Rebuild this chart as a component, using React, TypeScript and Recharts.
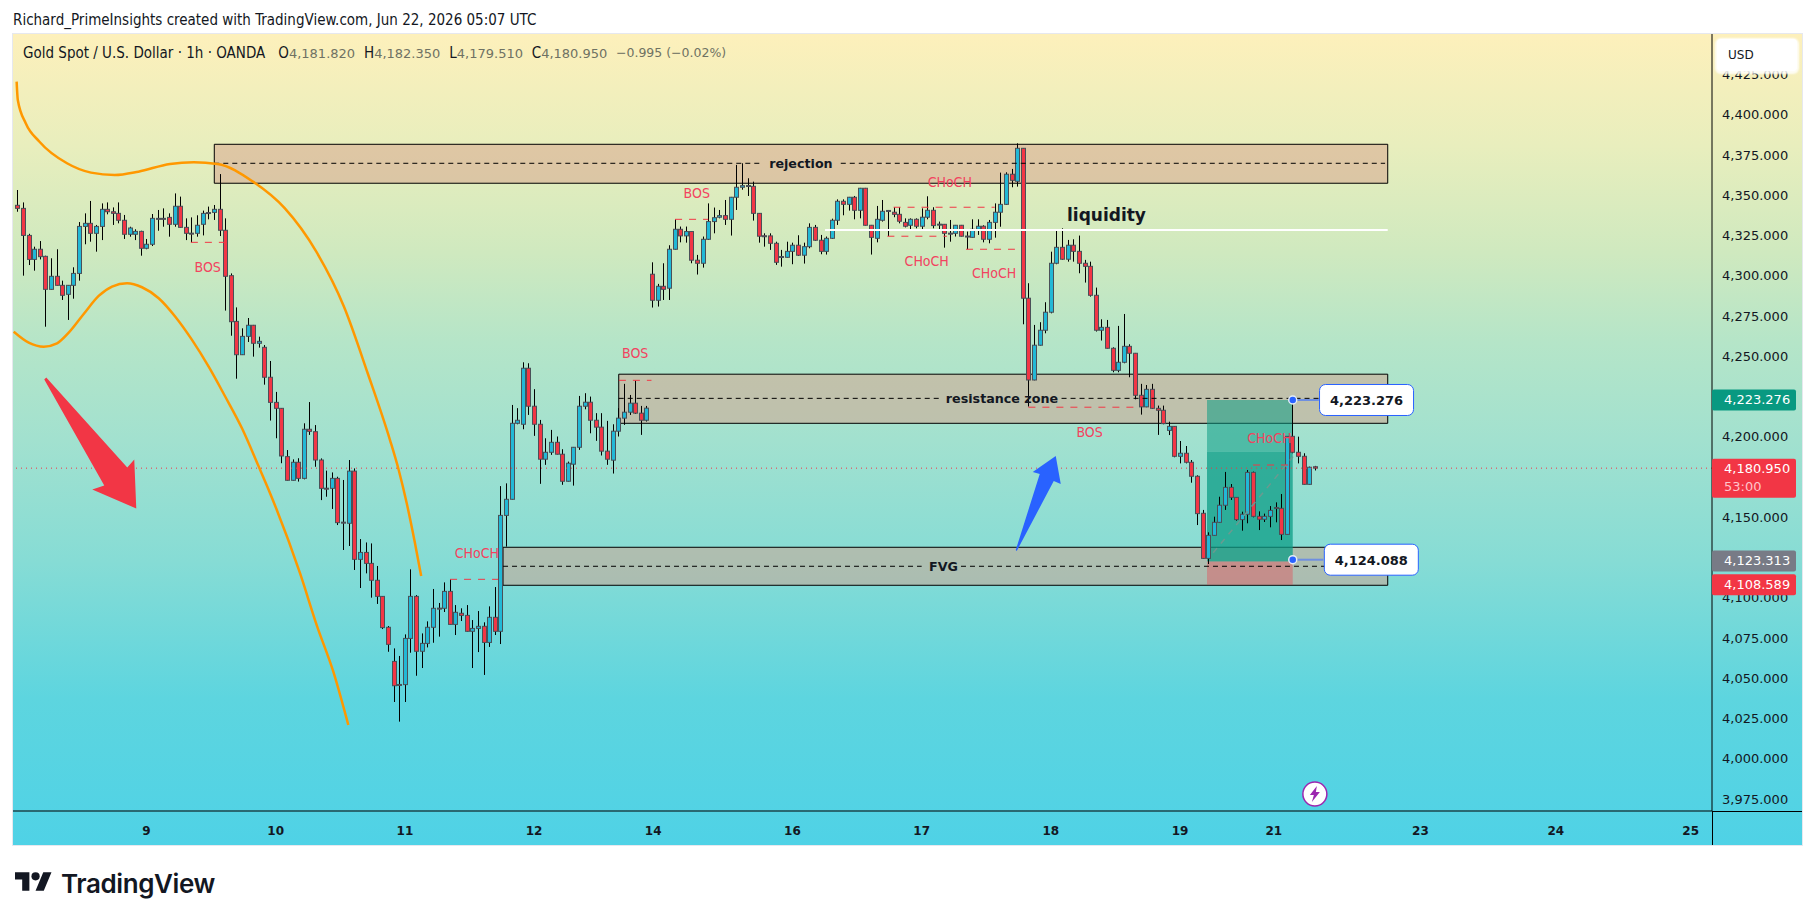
import { Bar, ComposedChart, Line, ReferenceArea, ReferenceDot, ReferenceLine, XAxis, YAxis } from "recharts";

const FONT = "'DejaVu Sans', sans-serif";
const NARROW = "'DejaVu Sans Condensed', 'DejaVu Sans', sans-serif";
const RED = "#F23645";
const BLUE = "#22B8D6";
const INK = "#131722";
const X_DOMAIN = [-0.766, 301.7];
const Y_DOMAIN = [3968, 4450.6];

const opens = [
  4344.2, 4342.3, 4325.5, 4310.6, 4316.9, 4312.5, 4292.0, 4300.1, 4294.5, 4288.9,
  4294.5, 4301.9, 4331.1, 4333.0, 4326.8, 4331.1, 4341.7, 4340.2, 4339.2, 4334.9,
  4326.2, 4326.2, 4328.0, 4317.5, 4320.0, 4336.1, 4336.1, 4336.7, 4332.4, 4343.6,
  4330.5, 4326.9, 4326.8, 4332.4, 4339.7, 4339.8, 4341.7, 4328.7, 4300.5, 4272.1,
  4251.4, 4262.8, 4269.7, 4258.5, 4256.0, 4237.4, 4221.8, 4218.1, 4188.1, 4173.4,
  4184.6, 4174.6, 4205.1, 4203.6, 4186.0, 4168.5, 4168.4, 4174.6, 4147.4, 4146.7,
  4179.1, 4124.3, 4128.6, 4121.8, 4111.3, 4101.3, 4082.1, 4060.9, 4046.6, 4046.5,
  4075.2, 4101.3, 4067.2, 4072.1, 4082.1, 4094.0, 4093.9, 4104.4, 4083.9, 4090.8,
  4089.5, 4079.6, 4081.4, 4082.7, 4072.7, 4088.3, 4079.6, 4151.6, 4161.6, 4208.8,
  4208.2, 4243.0, 4219.4, 4208.2, 4186.5, 4190.8, 4197.0, 4189.6, 4172.8, 4183.4,
  4193.9, 4219.4, 4221.9, 4210.7, 4206.4, 4191.5, 4185.9, 4203.9, 4212.0, 4215.7,
  4221.3, 4215.1, 4210.7, 4301.4, 4285.2, 4293.9, 4292.7, 4316.9, 4329.3, 4325.2,
  4327.9, 4310.1, 4308.2, 4323.1, 4334.1, 4336.8, 4337.8, 4335.5, 4349.2, 4355.4,
  4356.5, 4356.0, 4339.2, 4325.3, 4325.2, 4320.6, 4312.4, 4311.9, 4315.6, 4319.4,
  4313.2, 4318.5, 4330.5, 4322.5, 4315.6, 4323.7, 4334.9, 4346.7, 4344.8, 4349.2,
  4341.1, 4354.8, 4331.8, 4323.7, 4334.9, 4341.0, 4339.9, 4338.6, 4333.6, 4331.8,
  4335.5, 4331.2, 4336.8, 4341.1, 4332.5, 4332.4, 4326.9, 4326.8, 4331.8, 4325.1,
  4324.3, 4329.3, 4331.2, 4323.1, 4333.6, 4339.9, 4344.8, 4363.5, 4359.1, 4379.6,
  4286.5, 4235.7, 4257.3, 4266.6, 4277.8, 4308.2, 4318.1, 4310.7, 4319.4, 4315.6,
  4308.2, 4306.3, 4288.3, 4266.6, 4268.4, 4255.4, 4241.7, 4246.7, 4256.6, 4252.3,
  4226.2, 4219.0, 4229.9, 4218.1, 4216.9, 4204.4, 4206.9, 4188.3, 4190.2, 4184.6,
  4175.9, 4152.9, 4124.9, 4139.2, 4147.3, 4157.9, 4169.0, 4162.8, 4149.0, 4152.3,
  4178.3, 4151.0, 4149.2, 4151.0, 4156.5, 4156.0, 4139.8, 4200.7, 4190.8, 4188.3,
  4170.9, 4181.82,
];
const highs = [
  4353.7, 4346.0, 4326.5, 4318.5, 4322.0, 4312.9, 4311.3, 4316.9, 4297.4, 4294.7,
  4305.7, 4333.8, 4339.2, 4346.9, 4332.0, 4345.4, 4346.0, 4342.9, 4346.0, 4338.2,
  4330.9, 4329.3, 4328.4, 4323.3, 4338.8, 4341.3, 4342.3, 4339.2, 4351.6, 4349.6,
  4336.1, 4336.7, 4338.0, 4340.9, 4343.4, 4344.4, 4363.6, 4336.1, 4301.9, 4280.8,
  4267.8, 4274.2, 4269.9, 4262.6, 4257.4, 4247.5, 4228.3, 4218.3, 4192.2, 4186.4,
  4187.1, 4208.8, 4222.0, 4207.7, 4187.0, 4179.4, 4178.3, 4175.6, 4173.6, 4186.0,
  4180.8, 4136.9, 4134.8, 4134.2, 4120.2, 4101.5, 4082.9, 4069.0, 4064.3, 4077.7,
  4118.1, 4102.1, 4078.3, 4085.8, 4105.9, 4097.2, 4110.0, 4111.9, 4095.9, 4093.9,
  4095.9, 4086.6, 4092.2, 4085.2, 4095.1, 4107.1, 4169.8, 4171.5, 4220.2, 4218.2,
  4246.7, 4246.1, 4230.0, 4210.9, 4199.5, 4204.7, 4200.6, 4192.7, 4185.0, 4194.1,
  4225.8, 4227.5, 4225.4, 4215.1, 4215.1, 4210.3, 4208.2, 4218.2, 4233.3, 4226.4,
  4235.3, 4219.6, 4219.6, 4308.8, 4295.4, 4308.2, 4319.4, 4335.5, 4331.0, 4331.0,
  4328.1, 4313.4, 4324.8, 4345.4, 4342.8, 4341.3, 4347.5, 4349.4, 4369.3, 4370.3,
  4361.0, 4358.9, 4339.4, 4326.8, 4326.8, 4321.6, 4316.5, 4321.6, 4321.0, 4325.6,
  4321.0, 4333.0, 4332.0, 4325.8, 4324.8, 4335.9, 4347.9, 4347.9, 4349.4, 4350.0,
  4355.0, 4355.0, 4332.0, 4343.8, 4347.5, 4341.3, 4343.0, 4343.0, 4336.1, 4336.1,
  4336.1, 4342.3, 4349.8, 4343.0, 4334.1, 4332.6, 4335.1, 4332.0, 4332.0, 4327.9,
  4335.5, 4335.5, 4331.8, 4335.1, 4345.4, 4364.5, 4364.7, 4366.8, 4382.7, 4379.8,
  4295.8, 4269.9, 4271.6, 4284.0, 4315.4, 4328.9, 4329.9, 4322.7, 4323.1, 4325.4,
  4310.3, 4309.2, 4293.1, 4273.4, 4273.0, 4256.0, 4269.3, 4276.7, 4257.9, 4252.5,
  4233.3, 4232.6, 4233.3, 4219.8, 4219.8, 4209.8, 4207.1, 4197.8, 4194.7, 4186.0,
  4176.5, 4155.0, 4141.1, 4150.8, 4163.2, 4178.6, 4171.1, 4163.0, 4153.9, 4179.8,
  4178.8, 4154.1, 4152.7, 4157.4, 4159.7, 4164.9, 4200.9, 4223.3, 4200.5, 4190.2,
  4181.9, 4182.35,
];
const lows = [
  4340.2, 4300.5, 4307.1, 4303.6, 4310.6, 4268.8, 4291.8, 4294.3, 4285.4, 4273.0,
  4286.2, 4297.4, 4320.0, 4321.6, 4315.4, 4322.6, 4338.6, 4332.0, 4333.0, 4323.3,
  4324.7, 4322.6, 4312.9, 4316.9, 4318.9, 4328.4, 4330.9, 4324.7, 4330.9, 4330.3,
  4322.6, 4321.2, 4324.7, 4325.5, 4335.5, 4335.1, 4325.1, 4278.8, 4263.2, 4236.5,
  4251.2, 4259.3, 4250.2, 4255.8, 4232.8, 4210.5, 4199.5, 4184.0, 4173.2, 4173.2,
  4172.6, 4174.0, 4201.6, 4181.8, 4161.1, 4163.2, 4155.6, 4145.6, 4130.1, 4132.6,
  4117.7, 4106.5, 4115.6, 4100.5, 4096.6, 4081.0, 4066.9, 4035.7, 4023.5, 4035.7,
  4066.3, 4052.0, 4056.8, 4069.6, 4072.5, 4076.3, 4091.6, 4083.7, 4077.3, 4086.0,
  4079.4, 4056.8, 4066.7, 4052.5, 4069.9, 4077.3, 4071.7, 4132.2, 4161.4, 4208.2,
  4205.1, 4214.0, 4201.0, 4171.2, 4183.0, 4189.2, 4189.4, 4170.6, 4172.6, 4170.1,
  4192.3, 4217.5, 4202.6, 4197.9, 4188.8, 4183.0, 4177.6, 4200.6, 4207.8, 4214.0,
  4214.6, 4201.6, 4209.9, 4280.7, 4281.3, 4285.4, 4285.4, 4316.7, 4321.2, 4321.0,
  4308.2, 4301.2, 4305.5, 4322.7, 4326.8, 4336.1, 4332.0, 4325.4, 4341.3, 4353.9,
  4350.0, 4334.7, 4321.0, 4318.5, 4316.5, 4307.2, 4306.1, 4311.7, 4307.6, 4312.7,
  4308.0, 4317.5, 4322.1, 4313.8, 4313.6, 4323.3, 4332.0, 4338.0, 4340.9, 4335.5,
  4336.1, 4331.6, 4313.6, 4321.2, 4334.1, 4325.0, 4336.8, 4333.0, 4330.5, 4328.9,
  4329.9, 4329.3, 4335.5, 4329.9, 4328.9, 4317.9, 4321.6, 4324.8, 4324.8, 4316.9,
  4324.1, 4325.8, 4321.2, 4320.6, 4324.1, 4330.9, 4344.4, 4355.4, 4355.8, 4270.3,
  4219.2, 4235.5, 4257.1, 4264.7, 4277.1, 4307.6, 4310.3, 4309.2, 4309.2, 4302.0,
  4296.2, 4287.5, 4265.8, 4260.2, 4255.2, 4240.5, 4240.5, 4246.1, 4237.4, 4223.7,
  4214.2, 4218.8, 4217.7, 4201.6, 4208.2, 4201.5, 4187.7, 4183.9, 4183.9, 4171.9,
  4145.6, 4124.7, 4121.4, 4139.0, 4147.1, 4155.0, 4161.2, 4148.3, 4142.1, 4146.7,
  4150.4, 4142.5, 4147.5, 4144.2, 4147.3, 4136.3, 4139.6, 4190.2, 4183.9, 4170.7,
  4170.7, 4179.51,
];
const closes = [
  4342.3, 4325.5, 4310.6, 4316.9, 4312.3, 4292.0, 4300.1, 4294.5, 4288.3, 4294.5,
  4301.9, 4331.1, 4333.0, 4326.8, 4331.1, 4341.7, 4340.2, 4339.2, 4334.9, 4326.2,
  4330.1, 4328.0, 4317.5, 4320.0, 4336.1, 4335.9, 4335.9, 4332.4, 4343.6, 4330.5,
  4326.8, 4326.7, 4331.8, 4339.2, 4339.5, 4341.7, 4328.7, 4300.1, 4271.9, 4251.4,
  4262.8, 4269.7, 4258.5, 4259.7, 4237.4, 4221.8, 4218.1, 4188.5, 4173.4, 4184.6,
  4174.6, 4205.1, 4203.8, 4186.0, 4168.4, 4168.3, 4174.6, 4147.1, 4147.2, 4179.1,
  4124.3, 4128.6, 4121.8, 4111.3, 4101.3, 4081.9, 4071.5, 4045.8, 4046.4, 4075.2,
  4101.3, 4067.2, 4072.1, 4082.1, 4093.9, 4093.8, 4104.4, 4083.9, 4091.4, 4089.5,
  4079.6, 4081.4, 4082.7, 4072.7, 4088.3, 4079.6, 4151.6, 4161.6, 4208.8, 4210.7,
  4243.0, 4219.4, 4208.2, 4186.5, 4190.8, 4197.0, 4189.6, 4172.8, 4184.0, 4193.9,
  4219.4, 4221.9, 4210.7, 4206.4, 4191.5, 4186.5, 4203.9, 4212.0, 4215.7, 4221.3,
  4215.1, 4210.7, 4218.2, 4285.2, 4293.9, 4292.0, 4316.9, 4329.3, 4325.2, 4327.9,
  4310.1, 4308.2, 4323.1, 4334.1, 4336.5, 4337.8, 4335.5, 4349.2, 4355.4, 4356.4,
  4356.3, 4339.2, 4325.0, 4325.1, 4320.6, 4308.8, 4312.2, 4315.6, 4319.4, 4313.2,
  4318.5, 4330.5, 4322.5, 4315.6, 4323.7, 4334.9, 4346.7, 4344.8, 4349.2, 4341.1,
  4354.8, 4331.8, 4324.3, 4335.5, 4340.5, 4340.8, 4338.6, 4334.3, 4331.2, 4335.5,
  4331.2, 4336.8, 4341.1, 4331.6, 4332.3, 4326.8, 4326.7, 4331.8, 4325.0, 4324.9,
  4329.3, 4331.2, 4323.1, 4333.6, 4339.9, 4344.8, 4363.5, 4359.7, 4379.6, 4286.5,
  4235.7, 4257.3, 4266.6, 4277.8, 4308.2, 4318.1, 4310.7, 4319.4, 4315.6, 4308.2,
  4306.3, 4288.3, 4266.6, 4268.4, 4255.4, 4241.7, 4246.7, 4256.6, 4252.3, 4226.2,
  4219.0, 4229.9, 4218.1, 4216.9, 4208.6, 4206.9, 4188.3, 4190.2, 4184.6, 4175.9,
  4152.7, 4124.9, 4139.2, 4147.3, 4157.9, 4169.0, 4162.8, 4149.0, 4152.3, 4178.3,
  4151.0, 4149.2, 4151.0, 4154.7, 4156.3, 4139.8, 4200.7, 4190.8, 4188.3, 4170.9,
  4181.5, 4180.95,
];

const candles = opens.map((open, i) => ({
  i,
  open,
  high: highs[i],
  low: lows[i],
  close: closes[i],
  range: [lows[i], highs[i]],
}));

// 4,125 / 4,175 / 4,225 sit behind the price tags on the real chart
const priceTicks = [3975, 4000, 4025, 4050, 4075, 4100, 4150, 4200, 4250, 4275, 4300, 4325, 4350, 4375, 4400, 4425];
const dayTicks = [23, 46, 69, 92, 113.2, 138, 161, 184, 207, 223.7, 249.8, 273.9, 297.9];
const dayLabels = ["9", "10", "11", "12", "14", "16", "17", "18", "19", "21", "23", "24", "25"];

const upperCurve = [
  { i: -0.12, p: 4421.0 }, { i: 0.09, p: 4409.6 }, { i: 1.5, p: 4395.2 }, { i: 3.95, p: 4383.7 },
  { i: 8.85, p: 4370.3 }, { i: 13.12, p: 4364.5 }, { i: 17.34, p: 4363.0 }, { i: 21.56, p: 4365.1 },
  { i: 27.19, p: 4369.9 }, { i: 31.42, p: 4370.9 }, { i: 35.64, p: 4369.9 }, { i: 41.96, p: 4358.9 },
  { i: 47.6, p: 4342.4 }, { i: 53.23, p: 4315.4 }, { i: 58.16, p: 4281.2 }, { i: 62.38, p: 4239.9 },
  { i: 66.35, p: 4198.4 }, { i: 67.9, p: 4179.8 }, { i: 69.33, p: 4159.1 }, { i: 70.8, p: 4134.3 },
  { i: 71.9, p: 4114.0 },
];
const lowerCurve = [
  { i: -0.64, p: 4265.7 }, { i: 2.03, p: 4258.9 }, { i: 4.7, p: 4256.4 }, { i: 7.07, p: 4258.5 },
  { i: 9.15, p: 4265.1 }, { i: 11.82, p: 4276.7 }, { i: 14.49, p: 4287.9 }, { i: 16.86, p: 4293.7 },
  { i: 19.53, p: 4295.8 }, { i: 22.2, p: 4293.3 }, { i: 25.17, p: 4286.5 }, { i: 28.13, p: 4275.0 },
  { i: 31.1, p: 4260.6 }, { i: 34.07, p: 4244.0 }, { i: 37.03, p: 4225.3 }, { i: 40.0, p: 4205.7 },
  { i: 42.98, p: 4181.9 }, { i: 44.76, p: 4167.4 }, { i: 50.33, p: 4115.7 }, { i: 53.3, p: 4083.5 },
  { i: 56.26, p: 4054.5 }, { i: 58.93, p: 4021.4 },
];

const zones = [
  { x1: 35.07, x2: 243.97, y1: 4357.9, y2: 4382.1 },
  { x1: 107.07, x2: 243.97, y1: 4208.8, y2: 4239.3 },
  { x1: 86.47, x2: 243.97, y1: 4108.2, y2: 4131.8 },
];
// dashed middle lines, broken where the zone's name sits
const midLines = [
  { from: 35.07, to: 132.2, p: 4370.3 },
  { from: 146.6, to: 243.5, p: 4370.3 },
  { from: 107.07, to: 164.3, p: 4224.3 },
  { from: 185.9, to: 243.5, p: 4224.3 },
  { from: 86.47, to: 161, p: 4120 },
  { from: 168, to: 243.5, p: 4120 },
];
const structureLines = [
  { from: 30.9, to: 36.8, p: 4321.2 },
  { from: 77.04, to: 85.6, p: 4111.9 },
  { from: 107.1, to: 112.9, p: 4235.5 },
  { from: 117.1, to: 123, p: 4335.5 },
  { from: 156, to: 174, p: 4343 },
  { from: 154.9, to: 165.5, p: 4325 },
  { from: 168.9, to: 177.6, p: 4316.9 },
  { from: 180, to: 198.7, p: 4218.8 },
  { from: 220, to: 226.6, p: 4182.9 },
];
const structureNotes = [
  { text: "BOS", i: 33.9, p: 4306 },
  { text: "CHoCH", i: 81.8, p: 4128.4 },
  { text: "BOS", i: 110, p: 4252.3 },
  { text: "BOS", i: 120.96, p: 4351.7 },
  { text: "CHoCH", i: 166, p: 4358.9 },
  { text: "CHoCH", i: 161.9, p: 4309.8 },
  { text: "CHoCH", i: 173.9, p: 4302.4 },
  { text: "BOS", i: 190.9, p: 4203.6 },
  { text: "CHoCH", i: 222.9, p: 4199.5 },
];
const zoneNotes = [
  { text: "rejection", i: 139.5, p: 4370.3 },
  { text: "resistance zone", i: 175.3, p: 4224.3 },
  { text: "FVG", i: 164.9, p: 4120 },
];
const priceTags = [
  { text: "4,223.276", p: 4223.276, color: "#089981" },
  { text: "4,123.313", p: 4123.313, color: "#787B86" },
  { text: "4,108.589", p: 4108.589, color: RED },
];

const shapeOf = (pts: number[][], color: string) => (props: any) => (
  <polygon points={pts.map(([x, y]) => `${props.cx + x},${props.cy + y}`).join(" ")} fill={color} />
);

function Candle(props: any) {
  const { x, y, width, height, payload } = props;
  const cx = Math.round(x + width / 2) + 0.5;
  const unit = height / (payload.high - payload.low);
  const yOf = (v: number) => y + (payload.high - v) * unit;
  const top = yOf(Math.max(payload.open, payload.close));
  const bottom = yOf(Math.min(payload.open, payload.close));
  const up = payload.close >= payload.open;
  return (
    <g>
      <line x1={cx} x2={cx} y1={y} y2={y + height} stroke="#000" strokeWidth={1} />
      <rect
        x={cx - 2}
        y={top}
        width={4}
        height={Math.max(bottom - top, 1)}
        fill={up ? BLUE : RED}
        stroke="#4A5058"
        strokeWidth={1}
      />
    </g>
  );
}

const tagShape = (text: string, color: string) => (props: any) => (
  <g>
    <rect x={props.cx} y={props.cy - 10.5} width={84} height={21} rx={2} fill={color} />
    <text x={props.cx + 12} y={props.cy + 4.5} fontFamily={FONT} fontSize={13} fontWeight={500} fill="#fff">
      {text}
    </text>
  </g>
);

const boxShape = (text: string) => (props: any) => (
  <g>
    <rect x={props.cx - 47} y={props.cy - 15.5} width={94} height={31} rx={6} fill="#fff" stroke="#2962FF" strokeWidth={1} />
    <text x={props.cx} y={props.cy + 5} textAnchor="middle" fontFamily={FONT} fontSize={13} fontWeight={700} fill={INK}>
      {text}
    </text>
  </g>
);

function Header() {
  const runs = [
    { x: 278.3, k: "O", v: "4,181.820" },
    { x: 364, k: "H", v: "4,182.350" },
    { x: 449.3, k: "L", v: "4,179.510" },
    { x: 531.7, k: "C", v: "4,180.950" },
  ];
  const abs = (x: number, y: number): React.CSSProperties => ({ position: "absolute", left: x, top: y, whiteSpace: "nowrap" });
  return (
    <>
      <div style={{ ...abs(13, 11), fontFamily: NARROW, fontSize: 15, lineHeight: "18px", color: INK }}>
        Richard_PrimeInsights created with TradingView.com, Jun 22, 2026 05:07 UTC
      </div>
      <div style={{ ...abs(23, 44), fontFamily: NARROW, fontSize: 15, lineHeight: "18px", color: INK }}>
        Gold Spot / U.S. Dollar · 1h · OANDA
      </div>
      {runs.map((r) => (
        <div key={r.k} style={{ ...abs(r.x, 44), fontFamily: NARROW, fontSize: 15, lineHeight: "18px", color: INK }}>
          {r.k}
          <span style={{ color: "#6F7263", fontFamily: FONT, fontSize: 13 }}>{r.v}</span>
        </div>
      ))}
      <div style={{ ...abs(616, 44), fontFamily: FONT, fontSize: 12.5, lineHeight: "18px", color: "#6F7263" }}>
        −0.995 (−0.02%)
      </div>
    </>
  );
}

export default function App() {
  return (
    <div style={{ position: "absolute", left: 0, top: 0, width: 1815, height: 921, background: "#fff", overflow: "hidden" }}>
      <div
        style={{
          position: "absolute",
          left: 13,
          top: 34,
          width: 1789,
          height: 811,
          background:
            "linear-gradient(180deg,#FDF0BB 0%,#E8EEBD 14%,#CFE9BF 27%,#B5E5C8 38%,#A2E1CF 50%,#86DCD5 65%,#5DD5DF 82%,#4FD2E6 100%)",
          boxShadow: "0 0 0 1px #E6E8EE",
        }}
      />
      <div style={{ position: "absolute", left: 1712, top: 811, width: 1, height: 34, background: "#000" }} />
      <div style={{ position: "absolute", left: 1712, top: 811, width: 90, height: 1, background: "#000" }} />
      <Header />

      <div style={{ position: "absolute", left: 0, top: 0 }}>
        <ComposedChart
          width={1815}
          height={921}
          data={candles}
          margin={{ top: 34, right: 13, bottom: 76, left: 13 }}
        >
          <XAxis
            dataKey="i"
            type="number"
            scale="linear"
            domain={X_DOMAIN}
            allowDataOverflow
            ticks={dayTicks}
            interval={0}
            tickFormatter={(v: number) => dayLabels[dayTicks.indexOf(v)]}
            tick={{ fill: INK, fontSize: 12, fontWeight: 700, fontFamily: FONT }}
            tickLine={false}
            tickMargin={9}
            height={34}
            axisLine={{ stroke: "#000" }}
          />
          <YAxis
            orientation="right"
            type="number"
            domain={Y_DOMAIN}
            allowDataOverflow
            ticks={priceTicks}
            interval={0}
            tickFormatter={(v: number) => v.toLocaleString("en-US", { minimumFractionDigits: 3 })}
            tick={{ fill: INK, fontSize: 13, fontFamily: FONT, textAnchor: "start", dy: -0.7 }}
            tickLine={false}
            tickMargin={4}
            width={90}
            axisLine={{ stroke: "#000" }}
          />

          {zones.map((z, k) => (
            <ReferenceArea key={k} {...z} fill="#D59F8B" fillOpacity={0.5} stroke="#000" strokeOpacity={1} strokeWidth={1} ifOverflow="visible" />
          ))}
          {midLines.map((l, k) => (
            <ReferenceLine key={k} segment={[{ x: l.from, y: l.p }, { x: l.to, y: l.p }]} stroke="#000" strokeDasharray="5 4" ifOverflow="visible" />
          ))}
          <ReferenceLine segment={[{ x: 143.8, y: 4328.9 }, { x: 243.97, y: 4328.9 }]} stroke="#fff" strokeWidth={2} ifOverflow="visible" />

          <ReferenceArea x1={211.8} x2={227.06} y1={4191.2} y2={4223.276} fill="#0C9C85" fillOpacity={0.55} ifOverflow="visible" />
          <ReferenceArea x1={211.8} x2={227.06} y1={4123} y2={4191.2} fill="#0C9C85" fillOpacity={0.75} ifOverflow="visible" />
          <ReferenceArea x1={211.8} x2={227.06} y1={4108.589} y2={4123} fill={RED} fillOpacity={0.35} ifOverflow="visible" />
          <ReferenceLine segment={[{ x: 212.9, y: 4128.4 }, { x: 227.1, y: 4188.1 }]} stroke="#6A9A90" strokeWidth={1.5} strokeDasharray="6 6" ifOverflow="visible" />

          <ReferenceLine y={4180.95} stroke={RED} strokeWidth={1} strokeDasharray="1 4" />

          {structureLines.map((l, k) => (
            <ReferenceLine key={k} segment={[{ x: l.from, y: l.p }, { x: l.to, y: l.p }]} stroke={RED} strokeDasharray="7 7" ifOverflow="visible" />
          ))}
          {structureNotes.map((n, k) => (
            <ReferenceDot
              key={k}
              x={n.i}
              y={n.p}
              r={0}
              ifOverflow="visible"
              shape={(p: any) => (
                <text x={p.cx} y={p.cy + 5} textAnchor="middle" fontFamily={NARROW} fontSize={14} fill="#F2435F">
                  {n.text}
                </text>
              )}
            />
          ))}
          {zoneNotes.map((n, k) => (
            <ReferenceDot
              key={k}
              x={n.i}
              y={n.p}
              r={0}
              ifOverflow="visible"
              shape={(p: any) => (
                <text x={p.cx} y={p.cy + 4.5} textAnchor="middle" fontFamily={FONT} fontSize={12.7} fontWeight={700} fill={INK}>
                  {n.text}
                </text>
              )}
            />
          ))}
          <ReferenceDot
            x={193.9}
            y={4334.5}
            r={0}
            ifOverflow="visible"
            shape={(p: any) => (
              <text x={p.cx} y={p.cy} textAnchor="middle" fontFamily={FONT} fontSize={17} fontWeight={700} fill={INK}>
                liquidity
              </text>
            )}
          />

          <ReferenceDot
            x={4.8}
            y={4236}
            r={0}
            ifOverflow="visible"
            shape={shapeOf([[0, 0], [2, -2], [83, 88], [90, 80], [92, 129], [48, 110], [60, 106]], RED)}
          />
          <ReferenceDot
            x={177.75}
            y={4130.1}
            r={0}
            ifOverflow="visible"
            shape={shapeOf([[0, 0], [24, -76], [17, -78], [40, -94], [45, -66], [38, -69], [1, 1]], "#2962FF")}
          />

          <Line data={upperCurve} dataKey="p" type="monotoneX" stroke="#FF9800" strokeWidth={2.5} dot={false} activeDot={false} isAnimationActive={false} legendType="none" />
          <Line data={lowerCurve} dataKey="p" type="monotoneX" stroke="#FF9800" strokeWidth={2.5} dot={false} activeDot={false} isAnimationActive={false} legendType="none" />

          <Bar dataKey="range" barSize={5} shape={Candle} isAnimationActive={false} />

          <ReferenceLine segment={[{ x: 227.06, y: 4223.276 }, { x: 231.7, y: 4223.276 }]} stroke="#6F8FE0" strokeWidth={2} ifOverflow="visible" />
          <ReferenceLine segment={[{ x: 227.06, y: 4124.088 }, { x: 232.5, y: 4124.088 }]} stroke="#6F8FE0" strokeWidth={2} ifOverflow="visible" />
          <ReferenceDot x={227.06} y={4223.276} r={4} fill="#2962FF" stroke="#E4EDF5" strokeWidth={1.5} ifOverflow="visible" />
          <ReferenceDot x={227.06} y={4124.088} r={4} fill="#2962FF" stroke="#E4EDF5" strokeWidth={1.5} ifOverflow="visible" />
          <ReferenceDot x={240.2} y={4223.276} r={0} ifOverflow="visible" shape={boxShape("4,223.276")} />
          <ReferenceDot x={241.05} y={4124.088} r={0} ifOverflow="visible" shape={boxShape("4,124.088")} />

          <ReferenceDot
            x={231}
            y={3978.6}
            r={0}
            ifOverflow="visible"
            shape={(p: any) => (
              <g>
                <circle cx={p.cx} cy={p.cy} r={12} fill="#fff" stroke="#9C27B0" strokeWidth={1.5} />
                <polygon
                  points={[[2, -8], [-5, 1], [-1, 1], [-3, 8], [5, -2], [1, -2]].map(([x, y]) => `${p.cx + x},${p.cy + y}`).join(" ")}
                  fill="#9C27B0"
                />
              </g>
            )}
          />
        </ComposedChart>
      </div>

      {/* price tags go in a second chart on top so they cover the axis labels, same scales */}
      <div style={{ position: "absolute", left: 0, top: 0 }}>
        <ComposedChart
          width={1815}
          height={921}
          data={candles}
          margin={{ top: 34, right: 103, bottom: 110, left: 13 }}
        >
          <XAxis dataKey="i" type="number" scale="linear" domain={X_DOMAIN} allowDataOverflow hide />
          <YAxis type="number" domain={Y_DOMAIN} allowDataOverflow hide />
          {priceTags.map((t) => (
            <ReferenceDot key={t.text} x={301.7} y={t.p} r={0} ifOverflow="visible" shape={tagShape(t.text, t.color)} />
          ))}
          <ReferenceDot
            x={301.7}
            y={4180.95}
            r={0}
            ifOverflow="visible"
            shape={(p: any) => (
              <g>
                <rect x={p.cx} y={p.cy - 9.5} width={84} height={39} rx={2} fill={RED} />
                <text x={p.cx + 12} y={p.cy + 5} fontFamily={FONT} fontSize={13} fontWeight={500} fill="#fff">4,180.950</text>
                <text x={p.cx + 12} y={p.cy + 23} fontFamily={FONT} fontSize={13} fill="#FFC4CA">53:00</text>
              </g>
            )}
          />
        </ComposedChart>
      </div>

      <div
        style={{
          position: "absolute",
          left: 1717,
          top: 39,
          width: 80,
          height: 32,
          background: "#fff",
          borderRadius: 4,
          boxShadow: "0 1px 2px 2px rgba(255,255,255,0.85)",
          fontFamily: FONT,
          fontSize: 12,
          lineHeight: "32px",
          color: INK,
          paddingLeft: 11,
          boxSizing: "border-box",
        }}
      >
        USD
      </div>

      <svg style={{ position: "absolute", left: 15, top: 868 }} width={37} height={29} viewBox="0 0 36 28">
        <path d="M14 22H7V11H0V4h14v18zM28 22h-8l7.5-18h8L28 22z" fill="#131722" />
        <circle cx="20" cy="8" r="4" fill="#131722" />
      </svg>
      <div
        style={{
          position: "absolute",
          left: 61,
          top: 866,
          fontFamily: "Inter, sans-serif",
          fontWeight: 600,
          fontSize: 26,
          lineHeight: "36px",
          color: "#131722",
          letterSpacing: -0.4,
        }}
      >
        TradingView
      </div>
    </div>
  );
}
